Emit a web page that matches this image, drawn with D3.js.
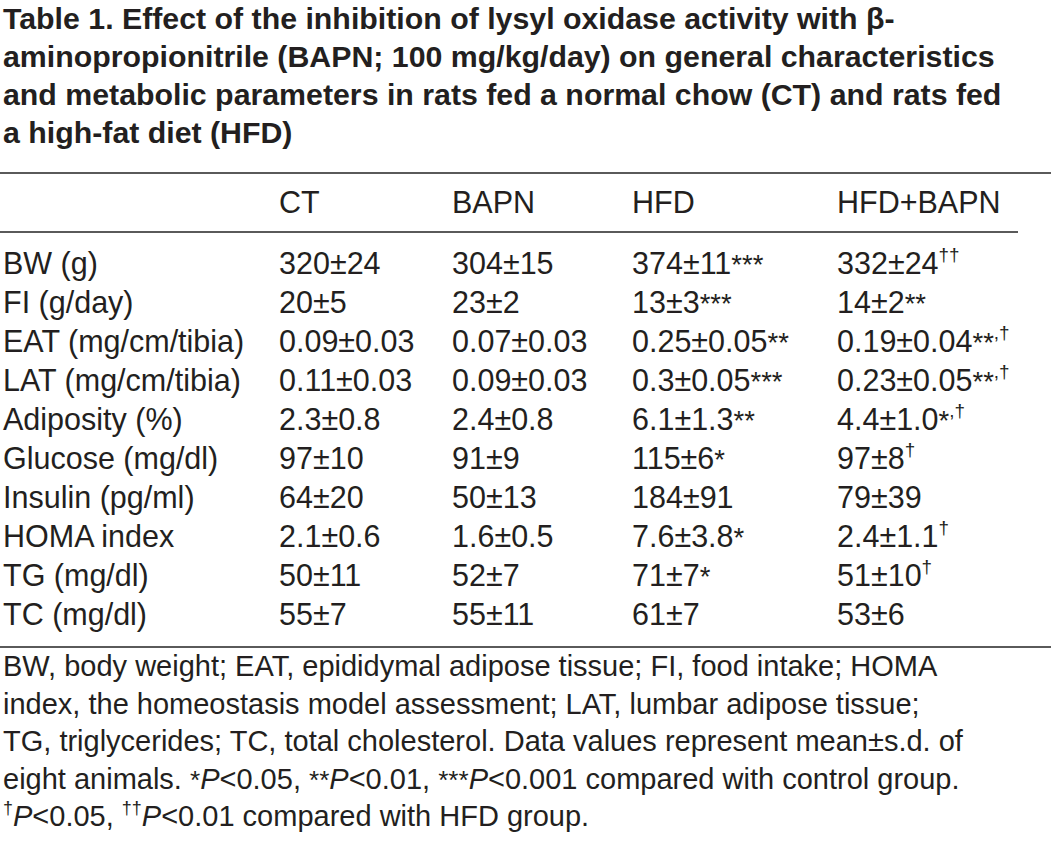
<!DOCTYPE html>
<html>
<head>
<meta charset="utf-8">
<script src="https://cdn.jsdelivr.net/npm/d3@7"></script>
<style>
  html, body { margin: 0; padding: 0; background: #ffffff; }
  svg { display: block; }
  text { font-family: "Liberation Sans", Arial, Helvetica, sans-serif; fill: #231f20; }
</style>
</head>
<body>
<svg id="chart" width="1051" height="847"></svg>
<script>
// ---------- data ----------
const titleLines = [
  "Table 1. Effect of the inhibition of lysyl oxidase activity with \u03b2-",
  "aminopropionitrile (BAPN; 100 mg/kg/day) on general characteristics",
  "and metabolic parameters in rats fed a normal chow (CT) and rats fed",
  "a high-fat diet (HFD)"
];
const groups = ["CT", "BAPN", "HFD", "HFD+BAPN"];
const parameters = ["BW (g)", "FI (g/day)", "EAT (mg/cm/tibia)", "LAT (mg/cm/tibia)", "Adiposity (%)",
  "Glucose (mg/dl)", "Insulin (pg/ml)", "HOMA index", "TG (mg/dl)", "TC (mg/dl)"];
const ctValues = ["320\u00b124", "20\u00b15", "0.09\u00b10.03", "0.11\u00b10.03", "2.3\u00b10.8",
  "97\u00b110", "64\u00b120", "2.1\u00b10.6", "50\u00b111", "55\u00b17"];
const ctMarks = ["", "", "", "", "", "", "", "", "", ""];
const bapnValues = ["304\u00b115", "23\u00b12", "0.07\u00b10.03", "0.09\u00b10.03", "2.4\u00b10.8",
  "91\u00b19", "50\u00b113", "1.6\u00b10.5", "52\u00b17", "55\u00b111"];
const bapnMarks = ["", "", "", "", "", "", "", "", "", ""];
const hfdValues = ["374\u00b111", "13\u00b13", "0.25\u00b10.05", "0.3\u00b10.05", "6.1\u00b11.3",
  "115\u00b16", "184\u00b191", "7.6\u00b13.8", "71\u00b17", "61\u00b17"];
const hfdMarks = ["***", "***", "**", "***", "**", "*", "", "*", "*", ""];
const hfdBapnValues = ["332\u00b124", "14\u00b12", "0.19\u00b10.04", "0.23\u00b10.05", "4.4\u00b11.0",
  "97\u00b18", "79\u00b139", "2.4\u00b11.1", "51\u00b110", "53\u00b16"];
const hfdBapnMarks = ["\u2020\u2020", "**", "**,\u2020", "**,\u2020", "*,\u2020", "\u2020", "", "\u2020", "\u2020", ""];
// footnote: n = normal, i = italic, s = superscript, a = asterisk
const footnoteLines = [
  [["n", "BW, body weight; EAT, epididymal adipose tissue; FI, food intake; HOMA"]],
  [["n", "index, the homeostasis model assessment; LAT, lumbar adipose tissue;"]],
  [["n", "TG, triglycerides; TC, total cholesterol. Data values represent mean\u00b1s.d. of"]],
  [["n", "eight animals. "], ["a", "*"], ["i", "P"], ["n", "<0.05, "], ["a", "**"], ["i", "P"], ["n", "<0.01, "],
   ["a", "***"], ["i", "P"], ["n", "<0.001 compared with control group."]],
  [["s", "\u2020"], ["i", "P"], ["n", "<0.05, "], ["s", "\u2020\u2020"], ["i", "P"], ["n", "<0.01 compared with HFD group."]]
];

// ---------- layout ----------
const W = 1051;
const bodyFont = 30.5;
const titleFont = 30.3;
const noteFont = 29;
const svg = d3.select("#chart");

const columns = ["label"].concat(groups);
const x = d3.scaleOrdinal().domain(columns).range([3, 279, 452, 632, 837]);
const y = d3.scalePoint().domain(parameters).range([274, 625]);
const titleY = d3.scalePoint().domain(d3.range(titleLines.length)).range([29, 143]);
const noteY = d3.scalePoint().domain(d3.range(footnoteLines.length)).range([676, 826]);

const tableData = parameters.map((p, i) => ({
  label: p,
  cells: [
    {g: "CT", v: ctValues[i], m: ctMarks[i]},
    {g: "BAPN", v: bapnValues[i], m: bapnMarks[i]},
    {g: "HFD", v: hfdValues[i], m: hfdMarks[i]},
    {g: "HFD+BAPN", v: hfdBapnValues[i], m: hfdBapnMarks[i]}
  ]
}));

// rich text helper
function rich(textSel, segs, fs) {
  let cur = 0;
  segs.forEach(([k, t]) => {
    const target = k === "s" ? -0.42 * fs : 0;
    const ts = textSel.append("tspan").text(t);
    if (target !== cur) { ts.attr("dy", target - cur); cur = target; }
    if (k === "s") ts.attr("font-size", fs * 0.62);
    if (k === "a") ts.attr("font-size", fs * 0.9);
    if (k === "i") ts.attr("font-style", "italic");
  });
}
function markSegs(m) {
  const out = [];
  for (const ch of m) {
    const k = ch === "*" ? "a" : "s";
    if (out.length && out[out.length - 1][0] === k) out[out.length - 1][1] += ch;
    else out.push([k, ch]);
  }
  return out;
}

// title
svg.append("g").selectAll("text").data(titleLines).join("text")
  .attr("x", 3).attr("y", (d, i) => titleY(i))
  .attr("font-size", titleFont).attr("font-weight", "bold")
  .text(d => d);

// rules
const rules = [
  {y: 173, x1: 0, x2: W},
  {y: 232, x1: 0, x2: 1018},
  {y: 647, x1: 0, x2: W}
];
svg.append("g").selectAll("line").data(rules).join("line")
  .attr("x1", d => d.x1).attr("x2", d => d.x2)
  .attr("y1", d => d.y).attr("y2", d => d.y)
  .attr("stroke", "#5a5a5a").attr("stroke-width", 2);

// header
svg.append("g").selectAll("text").data(groups).join("text")
  .attr("x", d => x(d)).attr("y", 213)
  .attr("font-size", bodyFont)
  .text(d => d);

// rows
const rowsG = svg.append("g").selectAll("g").data(tableData).join("g")
  .attr("transform", d => `translate(0,${y(d.label)})`);
rowsG.append("text").attr("x", x("label")).attr("y", 0)
  .attr("font-size", bodyFont).text(d => d.label);
rowsG.selectAll("text.cell").data(d => d.cells).join("text")
  .attr("class", "cell")
  .attr("x", d => x(d.g)).attr("y", 0)
  .attr("font-size", bodyFont)
  .each(function(d) {
    rich(d3.select(this), [["n", d.v]].concat(markSegs(d.m)), bodyFont);
  });

// footnote
svg.append("g").selectAll("text").data(footnoteLines).join("text")
  .attr("x", 3).attr("y", (d, i) => noteY(i))
  .attr("font-size", noteFont)
  .each(function(d) { rich(d3.select(this), d, noteFont); });
</script>
</body>
</html>
